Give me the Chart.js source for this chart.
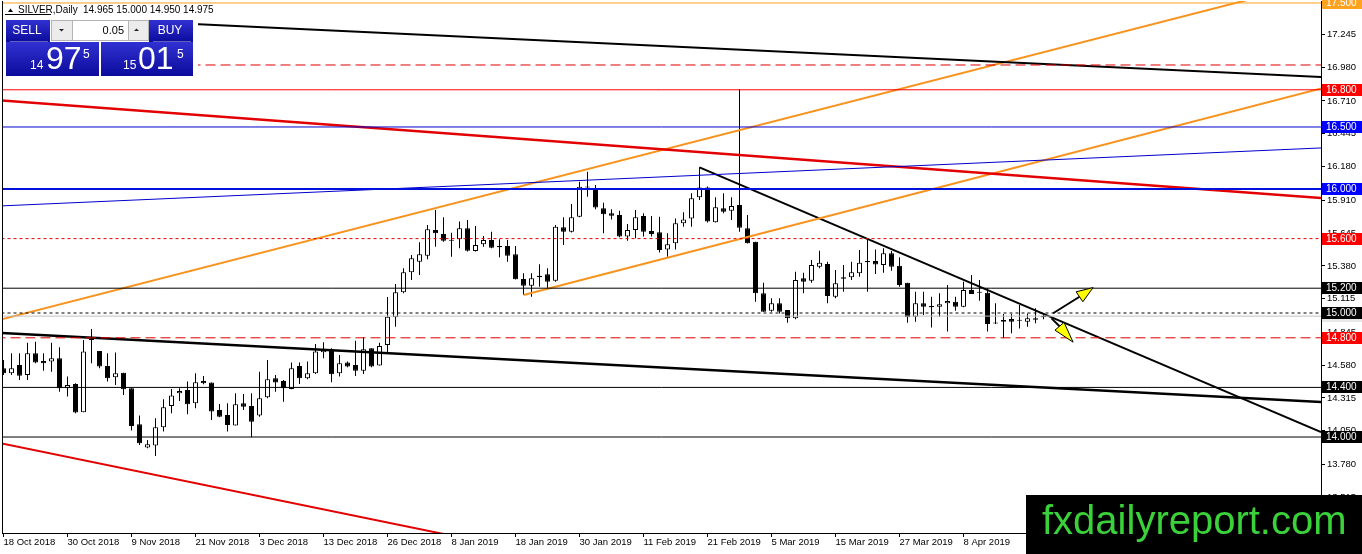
<!DOCTYPE html>
<html>
<head>
<meta charset="utf-8">
<title>SILVER Daily</title>
<script src="https://cdn.jsdelivr.net/npm/chart.js@4.4.1/dist/chart.umd.min.js"></script>
<style>
  html, body { margin: 0; padding: 0; background: #fff; overflow: hidden; }
  canvas { display: block; }
</style>
</head>
<body>
<canvas id="chart" width="1362" height="554"></canvas>
<script>
// date label every 8th bar
const dateLabels = ["18 Oct 2018", "30 Oct 2018", "9 Nov 2018", "21 Nov 2018", "3 Dec 2018",
  "13 Dec 2018", "26 Dec 2018", "8 Jan 2019", "18 Jan 2019", "30 Jan 2019", "11 Feb 2019",
  "21 Feb 2019", "5 Mar 2019", "15 Mar 2019", "27 Mar 2019", "8 Apr 2019", "18 Apr 2019"];

const opens = [14.554, 14.514, 14.581, 14.500, 14.675, 14.613, 14.608, 14.635, 14.393, 14.428,
  14.199, 14.783, 14.694, 14.573, 14.482, 14.519, 14.393, 14.103, 13.915, 13.931,
  14.078, 14.250, 14.353, 14.380, 14.272, 14.452, 14.439, 14.218, 14.178, 14.092,
  14.272, 14.250, 14.173, 14.320, 14.474, 14.452, 14.388, 14.573, 14.474, 14.514,
  14.683, 14.702, 14.514, 14.600, 14.581, 14.535, 14.716, 14.576, 14.742, 14.965,
  15.167, 15.328, 15.414, 15.462, 15.669, 15.637, 15.589, 15.594, 15.683, 15.500,
  15.554, 15.589, 15.540, 15.540, 15.473, 15.274, 15.220, 15.288, 15.312, 15.261,
  15.691, 15.656, 15.777, 16.013, 15.992, 15.844, 15.804, 15.790, 15.616, 15.669,
  15.782, 15.661, 15.651, 15.513, 15.562, 15.723, 15.763, 15.933, 16.013, 15.731,
  15.844, 15.825, 15.871, 15.683, 15.575, 15.159, 15.019, 15.078, 15.024, 14.957,
  15.280, 15.261, 15.374, 15.395, 15.132, 15.288, 15.288, 15.320, 15.420, 15.419,
  15.387, 15.481, 15.382, 15.245, 14.970, 15.078, 15.056, 15.051, 15.078, 15.091,
  15.051, 15.186, 15.172, 15.164, 14.922, 14.930, 14.952, 14.944, 14.930, 14.957,
  14.965];
const highs = [14.621, 14.675, 14.675, 14.761, 14.769, 14.675, 14.761, 14.724, 14.487, 14.433,
  14.783, 14.871, 14.694, 14.675, 14.681, 14.519, 14.393, 14.173, 13.976, 14.151,
  14.304, 14.388, 14.393, 14.447, 14.514, 14.492, 14.439, 14.267, 14.272, 14.353,
  14.347, 14.353, 14.527, 14.621, 14.500, 14.460, 14.600, 14.600, 14.608, 14.750,
  14.764, 14.716, 14.662, 14.608, 14.777, 14.804, 14.716, 14.761, 15.130, 15.234,
  15.360, 15.468, 15.570, 15.710, 15.831, 15.772, 15.648, 15.737, 15.750, 15.702,
  15.621, 15.656, 15.594, 15.589, 15.540, 15.320, 15.320, 15.393, 15.360, 15.710,
  15.772, 15.879, 16.059, 16.140, 16.032, 15.890, 15.836, 15.825, 15.718, 15.831,
  15.804, 15.782, 15.777, 15.643, 15.763, 15.812, 15.965, 16.175, 16.020, 15.933,
  15.965, 15.933, 16.804, 15.790, 15.575, 15.245, 15.118, 15.118, 15.024, 15.333,
  15.325, 15.427, 15.503, 15.414, 15.347, 15.387, 15.414, 15.508, 15.589, 15.513,
  15.522, 15.500, 15.449, 15.245, 15.172, 15.172, 15.132, 15.159, 15.226, 15.132,
  15.253, 15.306, 15.266, 15.199, 15.078, 14.992, 14.992, 15.065, 14.997, 15.038,
  15.000];
const lows = [14.500, 14.500, 14.460, 14.460, 14.595, 14.535, 14.527, 14.366, 14.326, 14.191,
  14.199, 14.595, 14.554, 14.447, 14.420, 14.339, 14.052, 13.936, 13.909, 13.847,
  14.044, 14.191, 14.291, 14.183, 14.232, 14.425, 14.138, 14.159, 14.044, 14.092,
  14.218, 13.998, 14.164, 14.312, 14.366, 14.285, 14.385, 14.428, 14.466, 14.509,
  14.635, 14.441, 14.487, 14.562, 14.492, 14.509, 14.562, 14.576, 14.675, 14.890,
  15.160, 15.266, 15.307, 15.433, 15.535, 15.575, 15.454, 15.522, 15.495, 15.495,
  15.535, 15.522, 15.449, 15.414, 15.270, 15.145, 15.132, 15.212, 15.199, 15.253,
  15.548, 15.650, 15.772, 15.938, 15.836, 15.643, 15.755, 15.610, 15.583, 15.602,
  15.616, 15.616, 15.487, 15.454, 15.513, 15.696, 15.696, 15.911, 15.729, 15.729,
  15.804, 15.750, 15.656, 15.560, 15.091, 15.011, 15.011, 14.997, 14.922, 14.949,
  15.159, 15.245, 15.360, 15.078, 15.118, 15.172, 15.266, 15.293, 15.172, 15.315,
  15.325, 15.341, 15.212, 14.922, 14.930, 14.984, 14.884, 14.970, 14.850, 15.019,
  15.046, 15.153, 15.099, 14.850, 14.911, 14.796, 14.836, 14.876, 14.890, 14.917,
  14.950];
const closes = [14.514, 14.554, 14.495, 14.675, 14.600, 14.595, 14.635, 14.393, 14.420, 14.197,
  14.689, 14.791, 14.568, 14.474, 14.514, 14.385, 14.089, 13.949, 13.941, 14.078,
  14.240, 14.334, 14.371, 14.264, 14.441, 14.433, 14.205, 14.164, 14.097, 14.264,
  14.245, 14.124, 14.312, 14.466, 14.439, 14.393, 14.554, 14.474, 14.514, 14.689,
  14.702, 14.506, 14.595, 14.568, 14.535, 14.707, 14.568, 14.734, 14.970, 15.167,
  15.328, 15.441, 15.473, 15.675, 15.643, 15.583, 15.583, 15.683, 15.503, 15.548,
  15.589, 15.527, 15.530, 15.462, 15.272, 15.220, 15.280, 15.301, 15.253, 15.696,
  15.656, 15.772, 16.019, 16.019, 15.850, 15.796, 15.785, 15.616, 15.669, 15.772,
  15.656, 15.637, 15.508, 15.554, 15.723, 15.755, 15.925, 16.013, 15.737, 15.852,
  15.817, 15.863, 15.688, 15.562, 15.159, 15.011, 15.078, 15.011, 14.957, 15.266,
  15.253, 15.387, 15.406, 15.137, 15.239, 15.277, 15.328, 15.406, 15.410, 15.392,
  15.481, 15.374, 15.226, 14.965, 15.078, 15.051, 15.046, 15.070, 15.097, 15.051,
  15.186, 15.153, 15.164, 14.911, 14.916, 14.944, 14.930, 14.938, 14.957, 14.946,
  14.975];

const priceTicks = [17.245, 16.980, 16.710, 16.445, 16.180, 15.910, 15.645, 15.380, 15.115,
  14.845, 14.580, 14.315, 14.050, 13.780, 13.515];

// horizontal levels
const levelPrices = [17.5, 17.0, 16.8, 16.5, 16.0, 15.6, 15.2, 15.0, 14.8, 14.4, 14.0];

// trend lines as [bar index, price]
const blackUpper = [[-0.5, 17.405], [164.7, 16.903]];
const blackLower = [[-0.5, 14.839], [164.7, 14.282]];
const redUpper = [[-0.5, 16.715], [164.7, 15.927]];
const redLower = [[-0.5, 13.952], [60, 13.152]];
const orangeUpper = [[-0.5, 14.944], [164.7, 17.677]];
const orangeLower = [[65, 15.145], [164.7, 16.810]];
const blueRising = [[-0.5, 15.863], [164.7, 16.331]];
const blackFalling = [[87, 16.175], [164.7, 14.040]];
const arrowUp = [[131.2, 14.998], [134.5, 15.131], [136.2, 15.205]];
const arrowDown = [[131.0, 14.957], [132.0, 14.893], [133.7, 14.765]];

const spread = 0.04;
const lotSize = "0.05";

const bars = opens.map((_, i) => i);
const last = bars.length - 1;
const bid = closes[last];
const ask = bid + spread;

const levelStyles = [
  { color: "#ff9f1c", width: 1, dash: [], tag: "#ffa21f" },
  { color: "#e00000", width: 1, dash: [10, 5], tag: null },
  { color: "#ff0000", width: 1, dash: [], tag: "#ff0000" },
  { color: "#0000cc", width: 1, dash: [], tag: "#0000ff" },
  { color: "#0010dd", width: 2, dash: [], tag: "#0000ff" },
  { color: "#e00000", width: 1, dash: [3, 3], tag: "#ff0000" },
  { color: "#000000", width: 1, dash: [], tag: "#000000" },
  { color: "#000000", width: 1, dash: [3, 3], tag: "#000000" },
  { color: "#dd0000", width: 1, dash: [10, 5], tag: "#ff0000" },
  { color: "#000000", width: 1, dash: [], tag: "#000000" },
  { color: "#000000", width: 1, dash: [], tag: "#000000" }
];

function lineSet(points, color, width, dash) {
  return {
    type: "line",
    data: points.map(p => ({ x: p[0], y: p[1] })),
    borderColor: color,
    borderWidth: width,
    borderDash: dash || [],
    pointRadius: 0,
    fill: false,
    tension: 0,
    order: 1
  };
}

const datasets = [
  {
    type: "bar",
    data: bars.map(i => ({ x: i, y: [opens[i], closes[i]] })),
    backgroundColor: bars.map(i => closes[i] >= opens[i] ? "#ffffff" : "#000000"),
    borderColor: "#000000",
    borderWidth: 1,
    borderSkipped: false,
    barThickness: 5,
    minBarLength: 1,
    inflateAmount: 0,
    grouped: false,
    order: 3
  },
  {
    type: "bar",
    data: bars.map(i => ({ x: i, y: [lows[i], highs[i]] })),
    backgroundColor: "#000000",
    borderWidth: 0,
    barThickness: 1,
    inflateAmount: 0,
    grouped: false,
    order: 4
  },
  lineSet([[-1, bid], [166, bid]], "#c0c0c0", 1)
];

levelPrices.forEach((p, k) => {
  const s = levelStyles[k];
  datasets.push(lineSet([[-1, p], [166, p]], s.color, s.width, s.dash));
});

datasets.push(lineSet(blueRising, "#0000cc", 1));
datasets.push(lineSet(redUpper, "#e30000", 2.5));
datasets.push(lineSet(redLower, "#e30000", 2));
datasets.push(lineSet(blackLower, "#000000", 2.5));
datasets.push(lineSet(blackUpper, "#000000", 2));
datasets.push(lineSet(orangeUpper, "#f7931e", 2));
datasets.push(lineSet(orangeLower, "#f7931e", 2));
datasets.push(lineSet(blackFalling, "#000000", 2));

const FONT = "Liberation Sans";

function drawArrow(ctx, xs, ys, pts) {
  const p = pts.map(q => [xs.getPixelForValue(q[0]), ys.getPixelForValue(q[1])]);
  ctx.strokeStyle = "#000";
  ctx.lineWidth = 2;
  ctx.beginPath();
  ctx.moveTo(p[0][0], p[0][1]);
  ctx.lineTo(p[1][0], p[1][1]);
  ctx.stroke();
  const dx = p[2][0] - p[1][0], dy = p[2][1] - p[1][1];
  const len = Math.hypot(dx, dy);
  const nx = -dy / len * 6, ny = dx / len * 6;
  ctx.beginPath();
  ctx.moveTo(p[2][0], p[2][1]);
  ctx.lineTo(p[1][0] + nx, p[1][1] + ny);
  ctx.lineTo(p[1][0] - nx, p[1][1] - ny);
  ctx.closePath();
  ctx.fillStyle = "#ffff00";
  ctx.fill();
  ctx.lineWidth = 1;
  ctx.stroke();
}

function priceTag(ctx, ys, price, bg, fg) {
  const y = Math.round(ys.getPixelForValue(price));
  ctx.fillStyle = bg;
  ctx.fillRect(1322, y - 6, 40, 12);
  ctx.fillStyle = fg;
  ctx.font = "10px " + FONT;
  ctx.textAlign = "left";
  ctx.textBaseline = "middle";
  ctx.fillText(price.toFixed(3), 1326, y + 0.5);
}

function blueBox(ctx, x, y, w, h) {
  const g = ctx.createLinearGradient(0, y, 0, y + h);
  g.addColorStop(0, "#3131d2");
  g.addColorStop(1, "#0b0b9c");
  ctx.fillStyle = g;
  ctx.fillRect(x, y, w, h);
}

function splitPrice(v) {
  const s = v.toFixed(3);
  return [s.slice(0, 2), s.slice(3, 5), s.slice(5)];
}

function drawPanel(ctx) {
  ctx.fillStyle = "#ffffff";
  ctx.fillRect(3, 4, 195, 74);

  // header line
  ctx.fillStyle = "#000";
  ctx.beginPath();
  ctx.moveTo(8, 12); ctx.lineTo(13, 12); ctx.lineTo(10.5, 8.5); ctx.closePath();
  ctx.fill();
  ctx.fillRect(5, 14, 46, 1);
  ctx.font = "10px " + FONT;
  ctx.textAlign = "left";
  ctx.textBaseline = "alphabetic";
  ctx.fillText("SILVER,Daily", 18, 13);
  const hdr = [opens[last], highs[last], lows[last], closes[last]].map(v => v.toFixed(3)).join(" ");
  ctx.fillText(hdr, 83, 13);

  // buttons
  blueBox(ctx, 6, 20, 44, 22);
  blueBox(ctx, 149, 20, 44, 22);
  ctx.fillStyle = "rgba(255,255,255,0.35)";
  ctx.fillRect(10, 41, 38, 1);
  ctx.fillRect(153, 41, 38, 1);
  ctx.fillStyle = "#fff";
  ctx.font = "12px " + FONT;
  ctx.textAlign = "center";
  ctx.textBaseline = "middle";
  ctx.fillText("SELL", 27, 31);
  ctx.fillText("BUY", 170, 31);

  // lot spinner
  ctx.fillStyle = "#ececec";
  ctx.fillRect(51, 20, 21, 21);
  ctx.fillRect(129, 20, 20, 21);
  ctx.fillStyle = "#ffffff";
  ctx.fillRect(72, 20, 57, 21);
  ctx.strokeStyle = "#b4b4b4";
  ctx.lineWidth = 1;
  ctx.strokeRect(51.5, 20.5, 97, 20);
  ctx.beginPath();
  ctx.moveTo(72.5, 20); ctx.lineTo(72.5, 41);
  ctx.moveTo(128.5, 20); ctx.lineTo(128.5, 41);
  ctx.stroke();
  ctx.fillStyle = "#222";
  ctx.beginPath();
  ctx.moveTo(59, 29); ctx.lineTo(64, 29); ctx.lineTo(61.5, 31.5); ctx.closePath();
  ctx.fill();
  ctx.beginPath();
  ctx.moveTo(134, 31); ctx.lineTo(139, 31); ctx.lineTo(136.5, 28.5); ctx.closePath();
  ctx.fill();
  ctx.fillStyle = "#000";
  ctx.font = "11px " + FONT;
  ctx.textAlign = "right";
  ctx.fillText(lotSize, 124, 31);

  // price boxes
  blueBox(ctx, 6, 42, 93, 34);
  blueBox(ctx, 101, 42, 92, 34);
  ctx.fillStyle = "#fff";
  ctx.textBaseline = "alphabetic";
  ctx.textAlign = "left";
  const s = splitPrice(bid), b = splitPrice(ask);
  ctx.font = "12px " + FONT;
  ctx.fillText(s[0], 30, 69);
  ctx.fillText(b[0], 123, 69);
  ctx.font = "32px " + FONT;
  ctx.fillText(s[1], 46, 69);
  ctx.fillText(b[1], 138, 69);
  ctx.font = "12px " + FONT;
  ctx.fillText(s[2], 83, 58);
  ctx.fillText(b[2], 177, 58);
}

const overlay = {
  id: "overlay",
  beforeDraw(chart) {
    const ctx = chart.ctx;
    ctx.save();
    ctx.fillStyle = "#ffffff";
    ctx.fillRect(0, 0, chart.width, chart.height);
    ctx.restore();
  },
  afterDraw(chart) {
    const ctx = chart.ctx;
    const xs = chart.scales.x, ys = chart.scales.y;
    const area = chart.chartArea;
    ctx.save();

    // left border of the chart window
    ctx.fillStyle = "#000";
    ctx.fillRect(Math.round(area.left), area.top, 1, area.bottom - area.top);

    drawArrow(ctx, xs, ys, arrowUp);
    drawArrow(ctx, xs, ys, arrowDown);

    // price tags on the axis
    priceTag(ctx, ys, bid, "#e8e8e8", "#000");
    levelPrices.forEach((p, k) => {
      const t = levelStyles[k].tag;
      if (t) priceTag(ctx, ys, p, t, "#fff");
    });

    drawPanel(ctx);

    // watermark
    ctx.fillStyle = "#000";
    ctx.fillRect(1026, 495, 336, 59);
    ctx.fillStyle = "#3ad13a";
    ctx.font = "40px " + FONT;
    ctx.textAlign = "left";
    ctx.textBaseline = "alphabetic";
    ctx.fillText("fxdailyreport.com", 1042, 534);
    ctx.restore();
  }
};

new Chart(document.getElementById("chart"), {
  type: "bar",
  data: { datasets },
  options: {
    responsive: false,
    animation: false,
    devicePixelRatio: 1,
    layout: { padding: { left: 2, top: 1, right: 0, bottom: 0 } },
    plugins: { legend: { display: false }, tooltip: { enabled: false } },
    scales: {
      x: {
        type: "linear",
        position: "bottom",
        offset: false,
        min: -0.1875,
        max: 164.6875,
        afterFit: s => { s.height = 21; s.paddingLeft = 0; s.paddingRight = 0; },
        afterBuildTicks: s => { s.ticks = dateLabels.map((_, k) => ({ value: k * 8 })); },
        ticks: {
          autoSkip: false,
          maxRotation: 0,
          align: "start",
          padding: 0,
          color: "#000",
          font: { family: FONT, size: 9.5 },
          callback: (v, i) => dateLabels[i]
        },
        grid: { offset: false, drawOnChartArea: false, drawTicks: true, tickLength: 4, color: "#000" },
        border: { display: true, color: "#000" }
      },
      y: {
        type: "linear",
        position: "right",
        min: 13.226,
        max: 17.516,
        afterFit: s => { s.width = 41; s.paddingTop = 0; s.paddingBottom = 0; },
        afterBuildTicks: s => { s.ticks = priceTicks.map(v => ({ value: v })); },
        ticks: {
          padding: 2,
          color: "#000",
          font: { family: FONT, size: 9.5 },
          callback: v => v.toFixed(3)
        },
        grid: { drawOnChartArea: false, drawTicks: true, tickLength: 4, color: "#000" },
        border: { display: true, color: "#000" }
      }
    }
  },
  plugins: [overlay]
});
</script>
</body>
</html>
